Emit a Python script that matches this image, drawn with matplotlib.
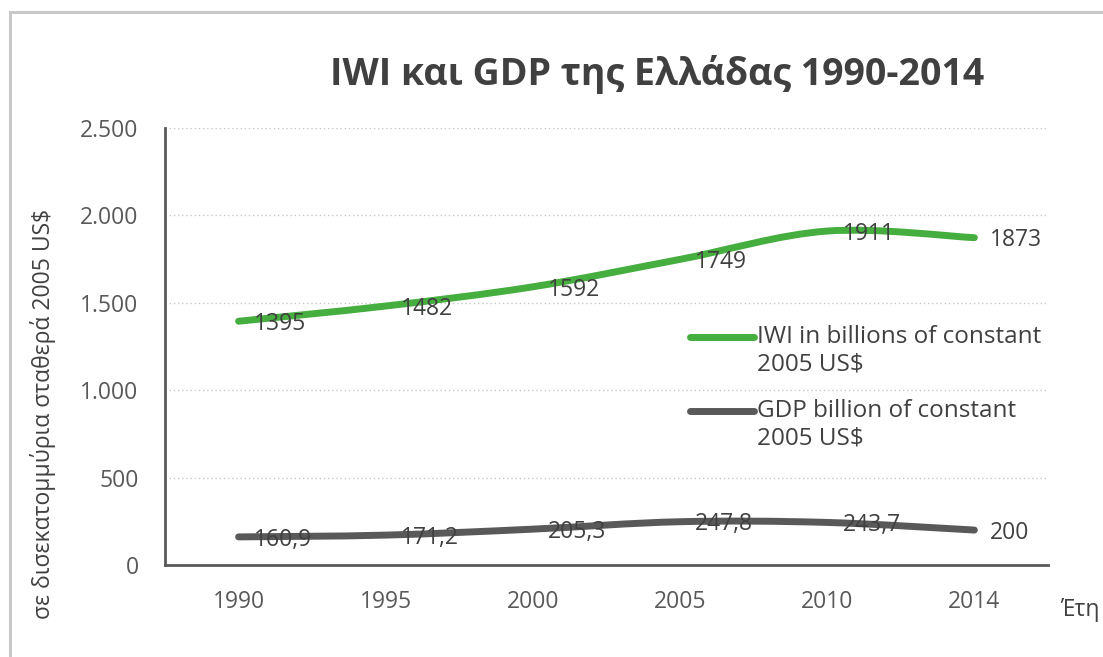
import matplotlib
matplotlib.use('Agg')
import matplotlib.pyplot as plt
from matplotlib.path import Path
from matplotlib.patches import PathPatch, Rectangle
import numpy as np

plt.rcParams['font.family'] = ['Open Sans', 'DejaVu Sans']

# data
years = ['1990', '1995', '2000', '2005', '2010', '2014']
iwi = [1395, 1482, 1592, 1749, 1911, 1873]
gdp = [160.9, 171.2, 205.3, 247.8, 243.7, 200]
iwi_labels = ['1395', '1482', '1592', '1749', '1911', '1873']
gdp_labels = ['160,9', '171,2', '205,3', '247,8', '243,7', '200']
y_ticks = [0, 500, 1000, 1500, 2000, 2500]
y_tick_labels = ['0', '500', '1.000', '1.500', '2.000', '2.500']
legend_iwi = ['IWI in billions of constant', '2005 US$']
legend_gdp = ['GDP billion of constant', '2005 US$']

GREEN = '#45ae3f'
GREY = '#595959'
TXT = '#404040'


def smooth_path(xs, ys):
    # excel-like smoothed line: cubic bezier through the points
    pts = np.column_stack([xs, ys]).astype(float)
    n = len(pts)
    verts = [pts[0]]
    codes = [Path.MOVETO]
    for i in range(n - 1):
        p0 = pts[max(i - 1, 0)]
        p1 = pts[i]
        p2 = pts[i + 1]
        p3 = pts[min(i + 2, n - 1)]
        c1 = p1 + (p2 - p0) / 6.0
        c2 = p2 - (p3 - p1) / 6.0
        verts += [c1, c2, p2]
        codes += [Path.CURVE4] * 3
    return Path(verts, codes)


fig = plt.figure(figsize=(11.03, 6.57), dpi=100)
ax = fig.add_axes([0.1496, 0.140, 0.8005, 0.665])

x = np.arange(len(years))
for vals, col in [(iwi, GREEN), (gdp, GREY)]:
    patch = PathPatch(smooth_path(x, vals), facecolor='none', edgecolor=col,
                      lw=5, capstyle='round', joinstyle='round', zorder=3)
    ax.add_patch(patch)

for xi, v, lab in zip(x, iwi, iwi_labels):
    ax.annotate(lab, (xi, v), xytext=(11, -2), textcoords='offset points',
                ha='left', va='center', fontsize=16.5, color=TXT, zorder=4)
for xi, v, lab in zip(x, gdp, gdp_labels):
    ax.annotate(lab, (xi, v), xytext=(11, -2), textcoords='offset points',
                ha='left', va='center', fontsize=16.5, color=TXT, zorder=4)

ax.set_xlim(-0.5, len(years) - 0.5)
ax.set_ylim(0, 2500)
ax.set_xticks(x)
ax.set_xticklabels(years)
ax.set_yticks(y_ticks)
ax.set_yticklabels(y_tick_labels)
ax.tick_params(axis='both', length=0, labelsize=16.5, labelcolor=GREY)
ax.tick_params(axis='x', pad=18)
ax.tick_params(axis='y', pad=19)

ax.grid(axis='y', color='#c8c8c8', linestyle=(0, (1, 2)), linewidth=1.0)
ax.set_axisbelow(True)
for s in ['top', 'right']:
    ax.spines[s].set_visible(False)
for s in ['left', 'bottom']:
    ax.spines[s].set_color(GREY)
    ax.spines[s].set_linewidth(2)

ax.set_ylabel('σε δισεκατομμύρια σταθερά 2005 US$', fontsize=16.5, color=TXT)
ax.yaxis.set_label_coords(-0.124, 0.345)

# legend drawn by hand so the handle sits on the first text line
for (lines, col, y0) in [(legend_iwi, GREEN, 0.522), (legend_gdp, GREY, 0.353)]:
    ax.plot([0.595, 0.667], [y0, y0], transform=ax.transAxes, color=col,
            lw=5, solid_capstyle='round', clip_on=False, zorder=5)
    ax.text(0.670, y0, lines[0], transform=ax.transAxes, ha='left',
            va='center', fontsize=17.5, color=TXT)
    ax.text(0.670, y0 - 0.064, lines[1], transform=ax.transAxes, ha='left',
            va='center', fontsize=17.5, color=TXT)

fig.text(657 / 1103, 1 - 75 / 657, 'IWI και GDP της Ελλάδας 1990-2014',
         ha='center', va='center', fontsize=27, fontweight='bold', color=TXT)
fig.text(1080 / 1103, 1 - 610 / 657, 'Έτη', ha='center', va='center',
         fontsize=16.5, color=TXT)

# outer frame
fig.patches.append(Rectangle((10 / 1103, -0.1), 1.2, 1 - 12 / 657 + 0.1,
                             transform=fig.transFigure, fill=False,
                             edgecolor='#c8c8c8', lw=2.2))

fig.savefig('out.png', dpi=100)
